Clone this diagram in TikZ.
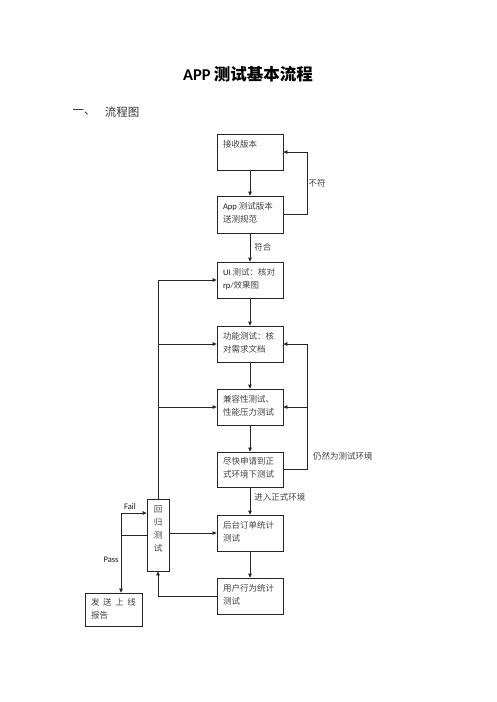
\documentclass[tikz,border=0pt]{standalone}
\usepackage{fontspec}
\setmainfont{Carlito}
\newfontfamily\cjk{Noto Sans CJK SC}
\usetikzlibrary{arrows.meta}
\begin{document}
\begin{tikzpicture}[x=1pt,y=-1pt,
  box/.style={draw=black!85, line width=0.8pt, minimum width=66pt, minimum height=36pt, inner sep=0pt,
    font=\fontsize{8.5}{13}\selectfont, text=black!75},
  arr/.style={draw=black!85, line width=0.8pt, -{Triangle[length=4pt,width=3.6pt]}},
  ln/.style={draw=black!85, line width=0.8pt},
  lab/.style={font=\fontsize{8.5}{10}\selectfont, text=black!75, inner sep=0pt}
]
\useasboundingbox (0,0) rectangle (496,702);
\newcommand{\bt}[1]{\parbox[t][28pt][t]{54pt}{\strut #1}}
% title
\node (title) at (248,74) {\fontsize{16.5}{17}\selectfont\bfseries APP\hspace{3pt}{\cjk 测试基本流程}};
\node[text=black!80] (h1) at (84,112) {\fontsize{11.5}{12}\selectfont\cjk 一、};
\node[text=black!80] (h2) at (122,112) {\fontsize{11.5}{12}\selectfont\cjk 流程图};
% boxes
\node[box] (recv) at (250,152) {\bt{\cjk 接收版本}};
\node[box, minimum height=37pt] (spec) at (250,214.5) {\bt{\textcolor{black!90}{App} {\cjk 测试版本}\\{\cjk 送测规范}}};
\node[box] (ui) at (250,280) {\bt{\textcolor{black!90}{UI} {\cjk 测试：核对}\\\textcolor{black!90}{rp}/{\cjk 效果图}}};
\node[box] (func) at (250,344) {\bt{\cjk 功能测试：核\\对需求文档}};
\node[box] (compat) at (250,407) {\bt{\cjk 兼容性测试、\\性能压力测试}};
\node[box, minimum height=35pt] (asap) at (250,469.5) {\bt{\cjk 尽快申请到正\\式环境下测试}};
\node[box] (backend) at (250,533) {\bt{\cjk 后台订单统计\\测试}};
\node[box] (user) at (250,596) {\bt{\cjk 用户行为统计\\测试}};
\node[box, minimum width=22pt, minimum height=72pt] (reg) at (158,535)
  {\parbox[t][64pt][t]{14pt}{\centering\strut\cjk 回\\归\\测\\试}};
\node[box, minimum width=57pt, minimum height=33pt] (send) at (113.5,609.5)
  {\parbox[t][26pt][t]{45pt}{\strut\cjk 发\hfill 送\hfill 上\hfill 线\\报告}};
% helper coordinates
\coordinate (rx) at (307,0);
\coordinate (ftop) at (121,513);
% main chain
\draw[arr] (recv) -- (spec);
\draw[arr] (spec) -- node[lab, right=4pt] {\cjk 符合} (ui);
\draw[arr] (ui) -- (func);
\draw[arr] (func) -- (compat);
\draw[arr] (compat) -- (asap);
\draw[arr] (asap) -- node[lab, right=4pt, pos=0.35] {\cjk 进入正式环境} (backend);
\draw[arr] (backend) -- (user);
% not match loop
\draw[ln] (spec.east) -- (spec.east -| rx);
\draw[arr] (spec.east -| rx) |- (recv.east);
\node[lab] (bf) at (317,183) {\cjk 不符};
% still test env loop
\draw[ln] (asap.east) -- (asap.east -| rx) -- (rx |- func.east);
\draw[arr] (rx |- func.east) -- (func.east);
\draw[arr] (rx |- compat.east) -- (compat.east);
\node[lab, anchor=west] (still) at (313,456) {\cjk 仍然为测试环境};
% regression loops
\draw[ln] (reg.north) -- (reg.north |- ui.west);
\draw[arr] (reg.north |- ui.west) -- (ui.west);
\draw[arr] (reg.north |- func.west) -- (func.west);
\draw[arr] (reg.north |- compat.west) -- (compat.west);
\draw[arr] (reg.east |- backend.west) -- (backend.west);
\draw[arr] (user.west) -| (reg.south);
% fail / pass
\draw[ln] (reg.west) -- (reg.west -| ftop);
\draw[arr] (ftop) -- (ftop -| reg.west);
\draw[arr] (ftop) -- (ftop |- send.north);
\node[lab, text=black!90] (fail) at (130,507) {Fail};
\node[lab, text=black!90] (pass) at (111,560) {Pass};
\end{tikzpicture}
\end{document}
